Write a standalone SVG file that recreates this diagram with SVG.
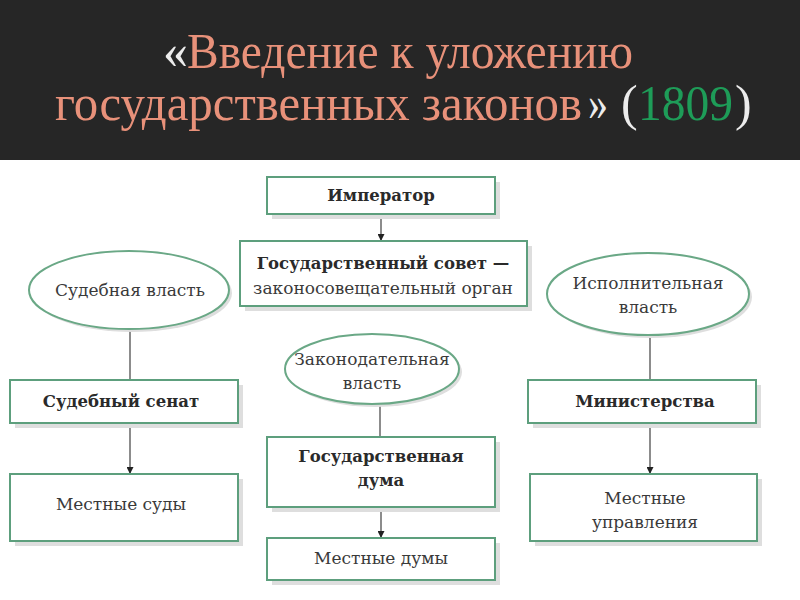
<svg xmlns="http://www.w3.org/2000/svg" width="800" height="600" viewBox="0 0 800 600">
<style>
.box{fill:#fff;stroke:#5d9f7d;stroke-width:2}
.ell{fill:#fff;stroke:#6aa886;stroke-width:2}
.sh{fill:#dedede}
.t{font-family:"DejaVu Serif","Liberation Serif",serif;font-size:17px;fill:#3a3a3a;text-anchor:middle}
.b{font-weight:bold;font-size:16.5px;fill:#2a2a2a}
.title{font-family:"Liberation Serif","DejaVu Serif",serif;font-size:50px}
.sal{fill:#e8917a}
.wh{fill:#ececec}
.gr{fill:#1e9c58}
.c{stroke:#666;stroke-width:1.5;fill:none}
</style>
<defs>
<marker id="arr" viewBox="0 0 10 10" refX="10" refY="5" markerWidth="7" markerHeight="7" markerUnits="userSpaceOnUse" orient="auto">
<path d="M0,0 L10,5 L0,10 z" fill="#222"/>
</marker>
</defs>
<rect x="0" y="0" width="800" height="600" fill="#fff"/>
<g id="title">
<rect x="0" y="0" width="800" height="160" fill="#262626"/>
<text class="title wh" x="163" y="68">«</text>
<text class="title sal" x="187" y="68" textLength="446" lengthAdjust="spacingAndGlyphs">Введение к уложению</text>
<text class="title sal" x="55" y="120" textLength="527" lengthAdjust="spacingAndGlyphs">государственных законов</text>
<text class="title wh" x="588" y="120" textLength="20" lengthAdjust="spacingAndGlyphs">»</text>
<text class="title wh" x="621" y="120">(</text>
<text class="title gr" x="638" y="120" textLength="95" lengthAdjust="spacingAndGlyphs">1809</text>
<text class="title wh" x="735" y="120">)</text>
</g>
<g id="connectors">
<line class="c" x1="381" y1="214" x2="381" y2="241" marker-end="url(#arr)"/>
<line class="c" x1="130" y1="330" x2="130" y2="380"/>
<line class="c" x1="130" y1="423" x2="130" y2="474" marker-end="url(#arr)"/>
<line class="c" x1="650" y1="336" x2="650" y2="380"/>
<line class="c" x1="650" y1="423" x2="650" y2="474" marker-end="url(#arr)"/>
<line class="c" x1="380" y1="405" x2="380" y2="437"/>
<line class="c" x1="381" y1="507" x2="381" y2="538" marker-end="url(#arr)"/>
</g>
<g id="emperor">
<rect class="sh" x="272" y="182" width="228" height="37"/>
<rect class="box" x="267" y="177" width="228" height="37"/>
<text class="t b" x="381" y="201">Император</text>
</g>
<g id="council">
<rect class="sh" x="245" y="246" width="287" height="65"/>
<rect class="box" x="240" y="241" width="287" height="65"/>
<text class="t b" x="383" y="269">Государственный совет —</text>
<text class="t" x="383" y="294">законосовещательный орган</text>
</g>
<g id="judicial">
<ellipse class="sh" cx="132" cy="293" rx="100" ry="39"/>
<ellipse class="ell" cx="129" cy="290" rx="100" ry="39"/>
<text class="t" x="130" y="296">Судебная власть</text>
</g>
<g id="executive">
<ellipse class="sh" cx="651" cy="297" rx="101" ry="41"/>
<ellipse class="ell" cx="648" cy="294" rx="101" ry="41"/>
<text class="t" x="648" y="289">Исполнительная</text>
<text class="t" x="648" y="313">власть</text>
</g>
<g id="legislative">
<ellipse class="sh" cx="375" cy="372" rx="87" ry="35"/>
<ellipse class="ell" cx="372" cy="369" rx="87" ry="35"/>
<text class="t" x="372" y="365">Законодательная</text>
<text class="t" x="372" y="389">власть</text>
</g>
<g id="senate">
<rect class="sh" x="15" y="385" width="228" height="43"/>
<rect class="box" x="10" y="380" width="228" height="43"/>
<text class="t b" x="121" y="407">Судебный сенат</text>
</g>
<g id="ministries">
<rect class="sh" x="533" y="385" width="228" height="43"/>
<rect class="box" x="528" y="380" width="228" height="43"/>
<text class="t b" x="645" y="407">Министерства</text>
</g>
<g id="duma">
<rect class="sh" x="272" y="442" width="228" height="70"/>
<rect class="box" x="267" y="437" width="228" height="70"/>
<text class="t b" x="381" y="462">Государственная</text>
<text class="t b" x="381" y="486">дума</text>
</g>
<g id="courts">
<rect class="sh" x="15" y="479" width="228" height="67"/>
<rect class="box" x="10" y="474" width="228" height="67"/>
<text class="t" x="121" y="510">Местные суды</text>
</g>
<g id="admin">
<rect class="sh" x="535" y="479" width="227" height="67"/>
<rect class="box" x="530" y="474" width="227" height="67"/>
<text class="t" x="645" y="504">Местные</text>
<text class="t" x="645" y="528">управления</text>
</g>
<g id="localduma">
<rect class="sh" x="272" y="543" width="228" height="42"/>
<rect class="box" x="267" y="538" width="228" height="42"/>
<text class="t" x="381" y="564">Местные думы</text>
</g>
</svg>
